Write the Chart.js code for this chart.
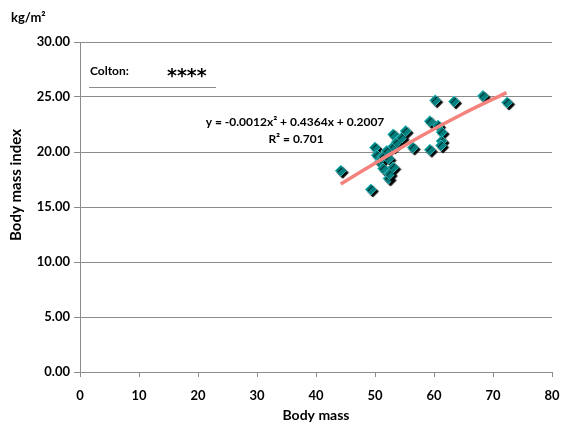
<!DOCTYPE html>
<html>
<head>
<meta charset="utf-8">
<script src="https://cdn.jsdelivr.net/npm/chart.js@4/dist/chart.umd.min.js"></script>
<style>
  html, body { margin: 0; padding: 0; background: #fff; }
  #wrap { width: 561px; height: 428px; position: relative; }
</style>
</head>
<body>
<div id="wrap"><canvas id="c" width="561" height="428"></canvas></div>
<script>
// ---- data ----
const bodyMass = [44.2, 49.3, 50.0, 50.3, 50.8, 51.1, 51.4, 51.4, 52.0, 52.3, 52.3, 52.5, 53.1, 53.1, 53.1, 53.7, 54.5, 55.2, 56.4, 59.3, 59.3, 60.2, 60.7, 61.3, 61.3, 61.2, 63.4, 68.3, 72.4];
const bmi      = [18.3, 16.6, 20.4, 19.7, 19.1, 19.3, 19.6, 18.5, 20.1, 19.4, 17.6, 18.0, 18.6, 20.5, 21.6, 20.9, 21.3, 21.9, 20.4, 22.8, 20.2, 24.7, 22.4, 21.8, 21.0, 20.6, 24.6, 25.1, 24.5];
const trendX   = [44.2, 51, 58, 65, 72.3];
const trendY   = [17.1, 19.3, 21.5, 23.5, 25.4];
const xTicks   = [0, 10, 20, 30, 40, 50, 60, 70, 80];
const yTicks   = [0, 5, 10, 15, 20, 25, 30];
const xTitle   = 'Body mass';
const yTitle   = 'Body mass index';
const unitText = 'kg/m²';
const eqText   = 'y = -0.0012x² + 0.4364x + 0.2007';
const r2Text   = 'R² = 0.701';
const noteLabel = 'Colton:';
const noteStars = '****';

const FONT = 'Lato, "Open Sans", sans-serif';

const shadowPlugin = {
  id: 'shadow',
  beforeDatasetDraw(chart, args) {
    if (args.index === 1) {
      const ctx = chart.ctx;
      ctx.save();
      ctx.shadowColor = 'rgba(0,0,0,1)';
      ctx.shadowOffsetX = 2;
      ctx.shadowOffsetY = 2;
      ctx.shadowBlur = 1;
    }
  },
  afterDatasetDraw(chart, args) {
    if (args.index === 1) chart.ctx.restore();
  }
};

const textPlugin = {
  id: 'texts',
  afterDraw(chart) {
    const ctx = chart.ctx;
    const a = chart.chartArea;
    ctx.save();
    ctx.fillStyle = '#000';
    // unit
    ctx.font = 'bold 13px ' + FONT;
    ctx.textAlign = 'left';
    ctx.textBaseline = 'middle';
    ctx.fillText(unitText, 11, 18);
    // y title
    ctx.save();
    ctx.translate(16, 185);
    ctx.rotate(-Math.PI / 2);
    ctx.textAlign = 'center';
    ctx.font = 'bold 15px ' + FONT;
    ctx.fillText(yTitle, 0, 0);
    ctx.restore();
    // Colton note
    ctx.font = 'bold 12px ' + FONT;
    ctx.textAlign = 'left';
    ctx.fillText(noteLabel, a.left + 10, 71);
    ctx.font = 'bold 19px "DejaVu Sans", sans-serif';
    ctx.fillText(noteStars, a.left + 87, 77);
    ctx.strokeStyle = '#8c8c8c';
    ctx.lineWidth = 1;
    ctx.beginPath();
    ctx.moveTo(a.left + 9, 87.5);
    ctx.lineTo(a.left + 136, 87.5);
    ctx.stroke();
    // equation
    ctx.font = 'bold 12px ' + FONT;
    ctx.textAlign = 'center';
    ctx.fillText(eqText, 295, 122);
    ctx.fillText(r2Text, 296, 139);
    ctx.restore();
  }
};

new Chart(document.getElementById('c'), {
  type: 'scatter',
  data: {
    datasets: [
      {
        label: 'trend',
        data: trendX.map((x, i) => ({ x: x, y: trendY[i] })),
        showLine: true,
        borderColor: '#f4837d',
        borderWidth: 3.5,
        pointRadius: 0,
        tension: 0.4,
        fill: false
      },
      {
        label: 'Colton',
        data: bodyMass.map((x, i) => ({ x: x, y: bmi[i] })),
        pointStyle: 'rectRot',
        pointRadius: 5.5,
        backgroundColor: '#008080',
        borderColor: '#33bfbf',
        borderWidth: 1
      }
    ]
  },
  options: {
    responsive: false,
    animation: false,
    devicePixelRatio: 1,
    layout: { padding: { top: 42, right: 9, left: 0, bottom: 4 } },
    plugins: { legend: { display: false }, tooltip: { enabled: false } },
    scales: {
      x: {
        type: 'linear',
        min: 0, max: 80,
        afterBuildTicks(scale) { scale.ticks = xTicks.map(v => ({ value: v })); },
        afterFit(scale) { scale.height = 52; scale.paddingRight = 0; scale.paddingLeft = 0; },
        grid: { drawOnChartArea: false, drawTicks: true, tickLength: 5, color: '#8c8c8c' },
        border: { display: true, color: '#8c8c8c', width: 1 },
        ticks: { color: '#000', font: { family: FONT, size: 13, weight: 'bold' }, padding: 11, maxRotation: 0 },
        title: { display: true, text: xTitle, color: '#000', font: { family: FONT, size: 14, weight: 'bold' }, padding: { top: 2, bottom: 0 } }
      },
      y: {
        type: 'linear',
        min: 0, max: 30,
        afterBuildTicks(scale) { scale.ticks = yTicks.map(v => ({ value: v })); },
        afterFit(scale) { scale.width = 80; },
        grid: { drawOnChartArea: true, drawTicks: true, tickLength: 6, color: '#8c8c8c' },
        border: { display: true, color: '#8c8c8c', width: 1 },
        ticks: { color: '#000', font: { family: FONT, size: 13, weight: 'bold' }, padding: 4, callback: v => Number(v).toFixed(2) }
      }
    }
  },
  plugins: [shadowPlugin, textPlugin]
});
</script>
</body>
</html>
